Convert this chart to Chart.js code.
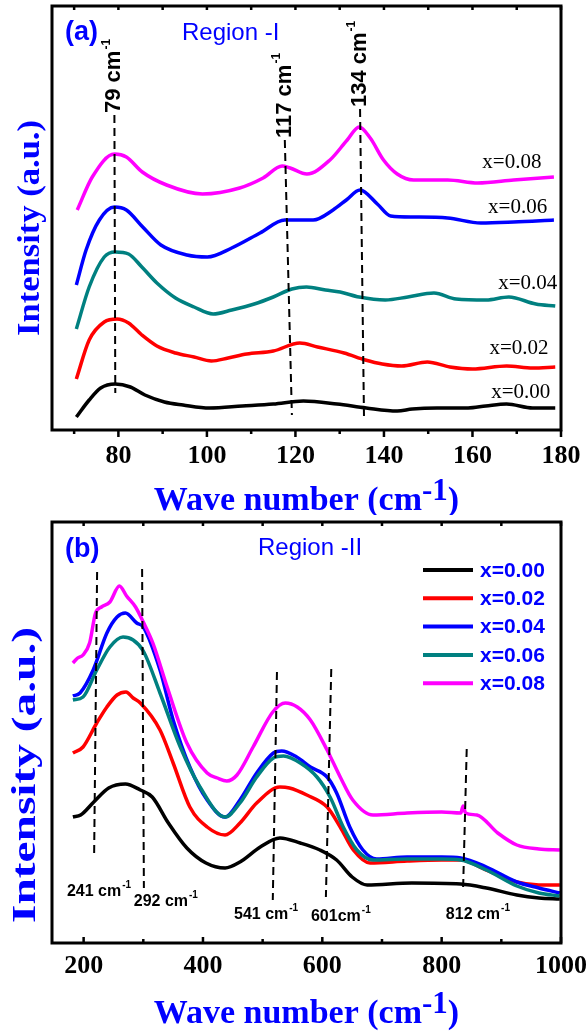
<!DOCTYPE html>
<html><head><meta charset="utf-8">
<script src="https://cdn.jsdelivr.net/npm/chart.js@4.4.1/dist/chart.umd.min.js"></script>
<style>
html,body{margin:0;padding:0;background:#fff;width:586px;height:1033px;overflow:hidden}
canvas{position:absolute;left:0}
#ca{top:0}
#cb{top:515px}
</style></head><body>
<canvas id="ca" width="586" height="515"></canvas>
<canvas id="cb" width="586" height="518"></canvas>
<script>
// ---------- tick values ----------
const A_TICKS = [80, 100, 120, 140, 160, 180];
const A_MINOR = [70, 90, 110, 130, 150, 170];
const B_TICKS = [200, 400, 600, 800, 1000];
const B_MINOR = [300, 500, 700, 900];
const SERIES = ['x=0.00', 'x=0.02', 'x=0.04', 'x=0.06', 'x=0.08'];

// ---------- panel (a): Region -I (wave number, intensity a.u. with offsets) ----------
const A_X_000 = [70.5,73.4,76,79.3,82.7,86,90.4,94.6,100.6,108,115,121.8,129.4,136,143,146.4,152,159,163,167.7,173.6,178.7];
const A_Y_000 = [13,30,42,46,43,35,28,25,22,24,26,29,26,22,19,21,22,22,24,26,22,22];
const A_X_002 = [70.5,73.4,76.8,79.7,82.3,85.3,88.7,92.9,97.1,101,104.8,109,115,121,125,131,135.8,139.6,144,149.8,154.9,160,167.7,173.6,178.7];
const A_Y_002 = [51,90,108,111,107,95,84,77,73,69,72,76,79,87,83,77,70,66,64,68,63,61,64,62,63];
const A_X_004 = [70.5,73.4,76.8,79.3,82.3,85.3,88.7,92.9,97.1,101.4,105.6,110.7,115,119.2,122.5,126.8,130.1,134.4,140.3,145.4,151.3,156.3,163.1,168.2,174.3,178.7];
const A_Y_004 = [101,143,173,178,176,163,147,132,123,116,120,126,133,141,143,140,138,133,130,133,137,131,130,133,126,124];
const A_X_006 = [70.5,72.7,75.7,79.1,81.8,85.5,89.6,95.5,100.1,105.6,112,117.6,124,128.5,131.5,134.6,138.5,141.5,146.7,154.4,161.9,169.3,178.4];
const A_Y_006 = [145,180,210,223,220,203,185,175,173,182,197,210,210,220,230,240,226,214,213,212,207,208,210];
const A_X_008 = [70.7,74.1,79.1,81.8,85.4,90.9,99,107.4,112.7,117,118.8,122.6,127.8,131.7,134.4,136.9,139.9,143,146.7,154.4,161.2,169.3,178.4];
const A_Y_008 = [220,253,276,273,258,245,236,242,252,264,262,256,270,290,303,292,270,256,250,250,247,250,253];
// curve labels (a)
const A_LBL_X = [170.9, 170.5, 172.5, 170.2, 168.9];
const A_LBL_Y = [38, 82, 147, 223, 268];
// peak marker lines (a)
const A_PEAK_NAME = ['79', '117', '134'];
const A_PEAK_X0 = [79.1, 117.6, 134.6];
const A_PEAK_X1 = [79.3, 119.2, 135.5];
const A_PEAK_Y0 = [315, 290, 321];
const A_PEAK_Y1 = [37, 15, 10];

// ---------- panel (b): Region -II ----------
const B_X_000 = [182,195,217,242,270,295,315,342,373,405,437,462,496,529,563,596,624,650,675,750,832,875,926,963,998];
const B_Y_000 = [126,128,141,155,159,153,146,120,95,80,75,81,96,105,100,93,83,66,58,60,59,55,48,45,44];
const B_X_002 = [182,199,222,239,256,271,283,295,328,350,378,407,437,462,490,529,545,574,608,630,652,680,742,800,832,875,926,963,998];
const B_Y_002 = [190,196,220,236,248,251,245,240,213,180,136,116,108,120,140,156,155,148,136,116,93,80,82,83,83,73,61,58,58];
const B_X_004 = [182,194,216,239,256,270,289,300,328,350,378,407,437,462,490,518,532,557,580,608,624,646,668,691,742,800,832,875,926,963,998];
const B_Y_004 = [247,250,273,310,326,330,320,316,273,223,176,143,126,143,170,190,192,186,176,166,150,116,93,84,86,86,85,76,61,55,50];
const B_X_006 = [182,199,222,244,266,283,300,328,362,395,437,462,490,518,535,563,591,613,635,658,685,742,800,832,875,926,963,998];
const B_Y_006 = [243,246,273,296,306,303,292,250,196,156,126,140,166,185,187,180,166,146,116,93,83,84,84,83,73,57,50,47];
const B_X_008 = [182,190,199,210,220,230,244,260,272,287,300,316,340,373,407,424,440,457,484,517,538,558,580,608,630,651,685,742,800,832,836,840,859,894,926,963,998];
const B_Y_008 = [280,285,288,300,330,336,341,357,347,336,321,300,256,200,170,165,162,168,196,231,240,236,223,193,166,143,128,130,131,130,137,130,128,110,98,94,93];
// peak marker lines (b)
const B_PEAK_NAME = ['241 cm', '292 cm', '541 cm', '601cm', '812 cm'];
const B_PEAK_X0 = [222.6, 298, 524, 615, 842];
const B_PEAK_X1 = [217.6, 301, 517, 606, 836];
const B_PEAK_Y0 = [371, 374, 271, 274, 194];
const B_PEAK_Y1 = [88, 55, 43, 46, 56];
const B_LBL_X = [172, 284, 452, 581, 807];
const B_LBL_Y = [51, 41, 28, 26, 28];

const COL = {k:'#000000', r:'#ff0000', b:'#0000ff', t:'#008080', m:'#ff00ff'};
const BLUE_TXT = '#0000ff';
const SERIF = '"Liberation Serif", "Times New Roman", serif';
const SANS = '"Liberation Sans", Arial, sans-serif';

function pts(xs, ys) { return xs.map((x, i) => ({x: x, y: ys[i]})); }
function curve(label, xs, ys, color) {
  return {label, data: pts(xs, ys), borderColor: color, backgroundColor: color, borderWidth: 3.5,
          pointRadius: 0, fill: false, cubicInterpolationMode: 'monotone'};
}
function dashes(x0s, x1s, y0s, y1s) {
  return x0s.map((x0, i) => ({label: 'peak', data: [{x: x0, y: y0s[i]}, {x: x1s[i], y: y1s[i]}],
     borderColor: '#000', borderWidth: 2, borderDash: [8, 5], pointRadius: 0, fill: false, tension: 0}));
}

function vtext(ctx, text, cx, cy, font, color, len) {
  ctx.save(); ctx.translate(cx, cy); ctx.rotate(-Math.PI / 2);
  ctx.font = font; const w = ctx.measureText(text).width;
  if (len) ctx.scale(len / w, 1);
  ctx.fillStyle = color; ctx.textAlign = 'center'; ctx.textBaseline = 'middle';
  ctx.fillText(text, 0, 0); ctx.restore();
}
function xtitle(ctx, cx, baseY) {
  const big = 'bold 34px ' + SERIF, sup = 'bold 31px ' + SERIF;
  ctx.save(); ctx.fillStyle = BLUE_TXT; ctx.textBaseline = 'alphabetic'; ctx.textAlign = 'left';
  ctx.font = big; const a = 'Wave number (cm'; const wa = ctx.measureText(a).width; const wc = ctx.measureText(')').width;
  ctx.font = sup; const ws = ctx.measureText('-1').width;
  let x0 = cx - (wa + ws + wc) / 2;
  ctx.font = big; ctx.fillText(a, x0, baseY);
  ctx.font = sup; ctx.fillText('-1', x0 + wa, baseY - 10);
  ctx.font = big; ctx.fillText(')', x0 + wa + ws, baseY);
  ctx.restore();
}
function ticks(ctx, x, ca, vals, len, side, dir) {
  ctx.beginPath();
  vals.forEach(v => {
    const px = x.getPixelForValue(v);
    const y0 = side === 'bottom' ? ca.bottom : ca.top;
    ctx.moveTo(px, y0); ctx.lineTo(px, y0 + dir * len);
  });
  ctx.stroke();
}

const decoA = {
  id: 'decoA',
  afterDraw(chart) {
    const {ctx, chartArea: ca, scales: {x, y}} = chart;
    ctx.save();
    ctx.strokeStyle = '#000'; ctx.lineWidth = 3;
    ctx.strokeRect(ca.left, ca.top, ca.right - ca.left, ca.bottom - ca.top);
    ctx.lineWidth = 2.5;
    ticks(ctx, x, ca, A_TICKS, 7, 'bottom', 1);
    ticks(ctx, x, ca, A_MINOR, 4, 'bottom', 1);
    ticks(ctx, x, ca, A_TICKS.concat(A_MINOR), 4, 'top', 1);
    // panel tag
    ctx.fillStyle = BLUE_TXT; ctx.textBaseline = 'middle'; ctx.textAlign = 'left';
    ctx.font = 'bold 27px ' + SANS; ctx.fillText('(a)', ca.left + 13, ca.top + 27);
    ctx.font = '24px ' + SANS; ctx.fillText('Region -I', ca.left + 130, ca.top + 27);
    // curve labels
    ctx.fillStyle = '#000'; ctx.textAlign = 'center'; ctx.font = '21px ' + SERIF;
    SERIES.forEach((s, i) => ctx.fillText(s, x.getPixelForValue(A_LBL_X[i]), y.getPixelForValue(A_LBL_Y[i])));
    // peak labels (rotated)
    A_PEAK_NAME.forEach((n, i) => {
      const px = x.getPixelForValue(A_PEAK_X0[i]), py = y.getPixelForValue(A_PEAK_Y0[i]);
      ctx.save(); ctx.translate(px, py - 2); ctx.rotate(-Math.PI / 2);
      ctx.textAlign = 'left'; ctx.textBaseline = 'middle'; ctx.fillStyle = '#000';
      ctx.font = 'bold 22px ' + SANS; const t = n + ' cm'; const w = ctx.measureText(t).width;
      ctx.fillText(t, 0, 0);
      ctx.font = 'bold 12px ' + SANS; ctx.fillText('-1', w + 1, -8);
      ctx.restore();
    });
    vtext(ctx, 'Intensity (a.u.)', 31, 228, 'bold 31px ' + SERIF, BLUE_TXT, 216);
    xtitle(ctx, (ca.left + ca.right) / 2, 510);
    ctx.restore();
  }
};

const decoB = {
  id: 'decoB',
  afterDraw(chart) {
    const {ctx, chartArea: ca, scales: {x, y}} = chart;
    ctx.save();
    ctx.strokeStyle = '#000'; ctx.lineWidth = 3;
    ctx.strokeRect(ca.left, ca.top, ca.right - ca.left, ca.bottom - ca.top);
    ctx.lineWidth = 2.5;
    ticks(ctx, x, ca, B_TICKS, 6, 'bottom', -1);
    ticks(ctx, x, ca, B_MINOR, 4, 'bottom', -1);
    ticks(ctx, x, ca, B_TICKS.concat(B_MINOR), 4, 'top', 1);
    ctx.fillStyle = BLUE_TXT; ctx.textBaseline = 'middle'; ctx.textAlign = 'left';
    ctx.font = 'bold 27px ' + SANS; ctx.fillText('(b)', ca.left + 13, ca.top + 28);
    ctx.font = '24px ' + SANS; ctx.fillText('Region -II', ca.left + 206, ca.top + 26);
    // legend
    const cols = [COL.k, COL.r, COL.b, COL.t, COL.m];
    ctx.font = 'bold 21px ' + SANS;
    SERIES.forEach((s, i) => {
      const yy = ca.top + 48 + i * 28.3;
      ctx.strokeStyle = cols[i]; ctx.lineWidth = 4;
      ctx.beginPath(); ctx.moveTo(ca.right - 138, yy); ctx.lineTo(ca.right - 88, yy); ctx.stroke();
      ctx.fillStyle = BLUE_TXT; ctx.fillText(s, ca.right - 81, yy + 1);
    });
    // peak labels
    ctx.fillStyle = '#000';
    B_PEAK_NAME.forEach((n, i) => {
      const px = x.getPixelForValue(B_LBL_X[i]), py = y.getPixelForValue(B_LBL_Y[i]);
      ctx.font = 'bold 16px ' + SANS; ctx.textBaseline = 'middle';
      const w = ctx.measureText(n).width; ctx.fillText(n, px, py);
      ctx.font = 'bold 10px ' + SANS; ctx.fillText('-1', px + w + 1, py - 7);
    });
    vtext(ctx, 'Intensity (a.u.)', 26, 260, 'bold 34px ' + SERIF, BLUE_TXT, 296);
    xtitle(ctx, (ca.left + ca.right) / 2, 508);
    ctx.restore();
  }
};

function opts(xmin, xmax, ymax, tickVals, padTop, axisH, tickPad) {
  return {
    responsive: false, animation: false, events: [],
    layout: {padding: {left: 52, right: 25, top: padTop, bottom: 0}},
    plugins: {legend: {display: false}, tooltip: {enabled: false}},
    scales: {
      x: {type: 'linear', min: xmin, max: xmax, position: 'bottom',
          afterBuildTicks: s => { s.ticks = tickVals.map(v => ({value: v})); },
          afterFit: s => { s.height = axisH; s.paddingLeft = 0; s.paddingRight = 0; },
          grid: {display: false, drawTicks: false}, border: {display: false},
          ticks: {font: {family: SERIF, size: 26, weight: 'bold'}, color: '#000', padding: tickPad,
                  maxRotation: 0, minRotation: 0, autoSkip: false, callback: v => String(v)}},
      y: {display: false, min: 0, max: ymax}
    }
  };
}

new Chart(document.getElementById('ca'), {
  type: 'line',
  data: {datasets: dashes(A_PEAK_X0, A_PEAK_X1, A_PEAK_Y0, A_PEAK_Y1).concat([
    curve(SERIES[4], A_X_008, A_Y_008, COL.m),
    curve(SERIES[3], A_X_006, A_Y_006, COL.b),
    curve(SERIES[2], A_X_004, A_Y_004, COL.t),
    curve(SERIES[1], A_X_002, A_Y_002, COL.r),
    curve(SERIES[0], A_X_000, A_Y_000, COL.k)
  ])},
  options: opts(65, 180, 424, A_TICKS, 6, 85, 11),
  plugins: [decoA]
});

new Chart(document.getElementById('cb'), {
  type: 'line',
  data: {datasets: dashes(B_PEAK_X0, B_PEAK_X1, B_PEAK_Y0, B_PEAK_Y1).concat([
    curve(SERIES[4], B_X_008, B_Y_008, COL.m),
    curve(SERIES[3], B_X_006, B_Y_006, COL.t),
    curve(SERIES[2], B_X_004, B_Y_004, COL.b),
    curve(SERIES[1], B_X_002, B_Y_002, COL.r),
    curve(SERIES[0], B_X_000, B_Y_000, COL.k)
  ])},
  options: opts(147, 1000, 421, B_TICKS, 7, 90, 8),
  plugins: [decoB]
});
</script>
</body></html>
